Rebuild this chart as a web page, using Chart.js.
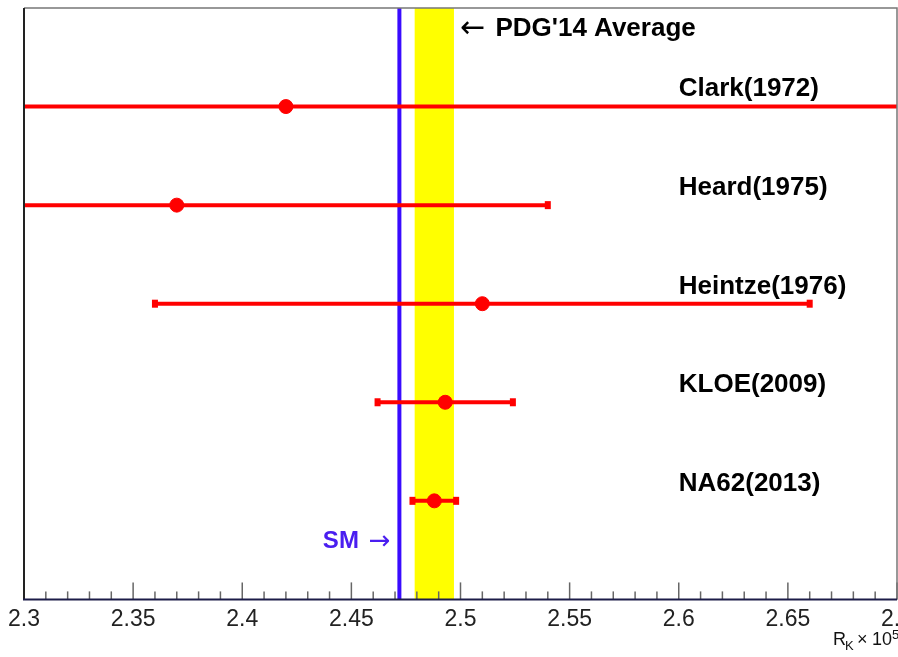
<!DOCTYPE html>
<html>
<head>
<meta charset="utf-8">
<script src="https://cdn.jsdelivr.net/npm/chart.js@4"></script>
<style>
  html, body { margin: 0; padding: 0; background: #fff; overflow: hidden; }
  #clip { width: 898px; height: 657px; overflow: hidden; }
  #wrap { width: 920px; height: 657px; position: relative; }
</style>
</head>
<body>
<div id="clip"><div id="wrap"><canvas id="rkChart"></canvas></div></div>
<script>
// measurements of R_K (x 10^5), one row per experiment, top to bottom
const experiments = ["Clark(1972)", "Heard(1975)", "Heintze(1976)", "KLOE(2009)", "NA62(2013)"];
const rkValues = [2.42, 2.37, 2.51, 2.493, 2.488];
const rkErrors = [0.42, 0.17, 0.15, 0.031, 0.010];
const rowPositions = [5, 4, 3, 2, 1];

const pdgAverage = 2.488;
const pdgError = 0.009;
const smValue = 2.472;

const xTickValues = [2.3, 2.35, 2.4, 2.45, 2.5, 2.55, 2.6, 2.65, 2.7];
const xTickLabels = ["2.3", "2.35", "2.4", "2.45", "2.5", "2.55", "2.6", "2.65", "2.7"];

const FONT = "'Liberation Sans', Arial, Helvetica, sans-serif";
const RED = "#ff0000";
const BLUE = "#3a0cff";

Chart.defaults.font.family = FONT;

// one line dataset per error bar
const errorBarSets = rkValues.map((v, i) => ({
    type: "line",
    data: [{ x: v - rkErrors[i], y: rowPositions[i] }, { x: v + rkErrors[i], y: rowPositions[i] }],
    borderColor: RED,
    borderWidth: 4,
    pointRadius: 0,
    order: 2
}));

const decorPlugin = {
    id: "decor",
    beforeDatasetsDraw(chart) {
        const { ctx, chartArea, scales: { x } } = chart;
        const left = x.getPixelForValue(pdgAverage - pdgError);
        const right = x.getPixelForValue(pdgAverage + pdgError);
        ctx.save();
        ctx.fillStyle = "#ffff00";
        ctx.fillRect(left, chartArea.top, right - left, chartArea.bottom - chartArea.top);
        ctx.restore();
    },
    afterDatasetsDraw(chart) {
        const { ctx, scales: { x, y } } = chart;
        ctx.save();
        ctx.fillStyle = RED;
        rkValues.forEach((v, i) => {
            const py = y.getPixelForValue(rowPositions[i]);
            [v - rkErrors[i], v + rkErrors[i]].forEach(end => {
                if (end < x.min || end > x.max) return;
                const px = x.getPixelForValue(end);
                ctx.fillRect(px - 3, py - 4, 6, 8);
            });
        });
        ctx.restore();
    },
    afterDraw(chart) {
        const { ctx, chartArea, scales: { x, y } } = chart;
        const { left, right, top, bottom } = chartArea;
        ctx.save();

        // tick marks pointing into the frame
        ctx.strokeStyle = "#666";
        ctx.lineWidth = 1.5;
        for (let i = 0; i <= 40; i++) {
            const px = x.getPixelForValue(2.3 + i * 0.01);
            const len = i % 5 === 0 ? 17 : 8;
            ctx.beginPath();
            ctx.moveTo(px, bottom);
            ctx.lineTo(px, bottom - len);
            ctx.stroke();
        }

        // frame
        ctx.lineWidth = 1.5;
        ctx.strokeStyle = "#777";
        ctx.beginPath();
        ctx.moveTo(left, top);
        ctx.lineTo(right, top);
        ctx.lineTo(right, bottom);
        ctx.stroke();
        ctx.lineWidth = 2;
        ctx.strokeStyle = "#222";
        ctx.beginPath();
        ctx.moveTo(left, top);
        ctx.lineTo(left, bottom);
        ctx.stroke();
        ctx.strokeStyle = "#1c1c48";
        ctx.beginPath();
        ctx.moveTo(left - 1, bottom);
        ctx.lineTo(right, bottom);
        ctx.stroke();

        // experiment labels
        ctx.fillStyle = "#000";
        ctx.textBaseline = "middle";
        ctx.textAlign = "left";
        ctx.font = "bold 26px " + FONT;
        experiments.forEach((name, i) => {
            ctx.fillText(name, x.getPixelForValue(2.6), y.getPixelForValue(rowPositions[i] + 0.175));
        });

        // PDG label
        let px = x.getPixelForValue(2.4999);
        let py = y.getPixelForValue(5.79);
        ctx.font = "30px 'DejaVu Sans', " + FONT;
        ctx.fillText("\u2190", px, py + 1);
        px += ctx.measureText("\u2190").width + 10;
        ctx.font = "bold 26px " + FONT;
        ctx.fillText("PDG'14 Average", px, py);

        // SM label
        ctx.fillStyle = "#4a1ef0";
        ctx.textAlign = "right";
        px = x.getPixelForValue(2.468);
        py = y.getPixelForValue(0.59);
        ctx.font = "26px 'DejaVu Sans', " + FONT;
        ctx.fillText("\u2192", px, py + 1);
        px -= ctx.measureText("\u2192").width + 10;
        ctx.font = "bold 24px " + FONT;
        ctx.fillText("SM", px, py);

        // axis title R_K x 10^5
        ctx.fillStyle = "#111";
        ctx.textAlign = "left";
        ctx.textBaseline = "alphabetic";
        const base = 645;
        ctx.font = "18px " + FONT;
        ctx.fillText("R", 833, base);
        ctx.font = "13px " + FONT;
        ctx.fillText("K", 845, base + 5);
        ctx.font = "18px " + FONT;
        ctx.fillText("\u00d7", 857, base);
        ctx.fillText("10", 872, base);
        ctx.font = "13px " + FONT;
        ctx.fillText("5", 892, base - 6);

        ctx.restore();
    }
};

new Chart(document.getElementById("rkChart"), {
    type: "scatter",
    data: {
        datasets: [
            {
                type: "line",
                data: [{ x: smValue, y: 0 }, { x: smValue, y: 6 }],
                borderColor: BLUE,
                borderWidth: 4,
                pointRadius: 0,
                order: 10
            },
            ...errorBarSets,
            {
                data: rkValues.map((v, i) => ({ x: v, y: rowPositions[i] })),
                backgroundColor: RED,
                borderColor: RED,
                pointRadius: 7,
                order: 0
            }
        ]
    },
    options: {
        responsive: true,
        maintainAspectRatio: false,
        animation: false,
        layout: { padding: { left: 24, top: 6, right: 23, bottom: 18 } },
        plugins: { legend: { display: false }, tooltip: { enabled: false } },
        scales: {
            x: {
                type: "linear",
                min: 2.3,
                max: 2.7,
                grid: { display: false, drawTicks: false },
                border: { display: false },
                afterBuildTicks: scale => {
                    scale.ticks = xTickValues.map(v => ({ value: v }));
                },
                ticks: {
                    padding: 6,
                    color: "#222",
                    font: { size: 23 },
                    maxRotation: 0,
                    autoSkip: false,
                    callback: (value, index) => xTickLabels[index]
                }
            },
            y: {
                type: "linear",
                min: 0,
                max: 6,
                display: false
            }
        }
    },
    plugins: [decorPlugin]
});
</script>
</body>
</html>
